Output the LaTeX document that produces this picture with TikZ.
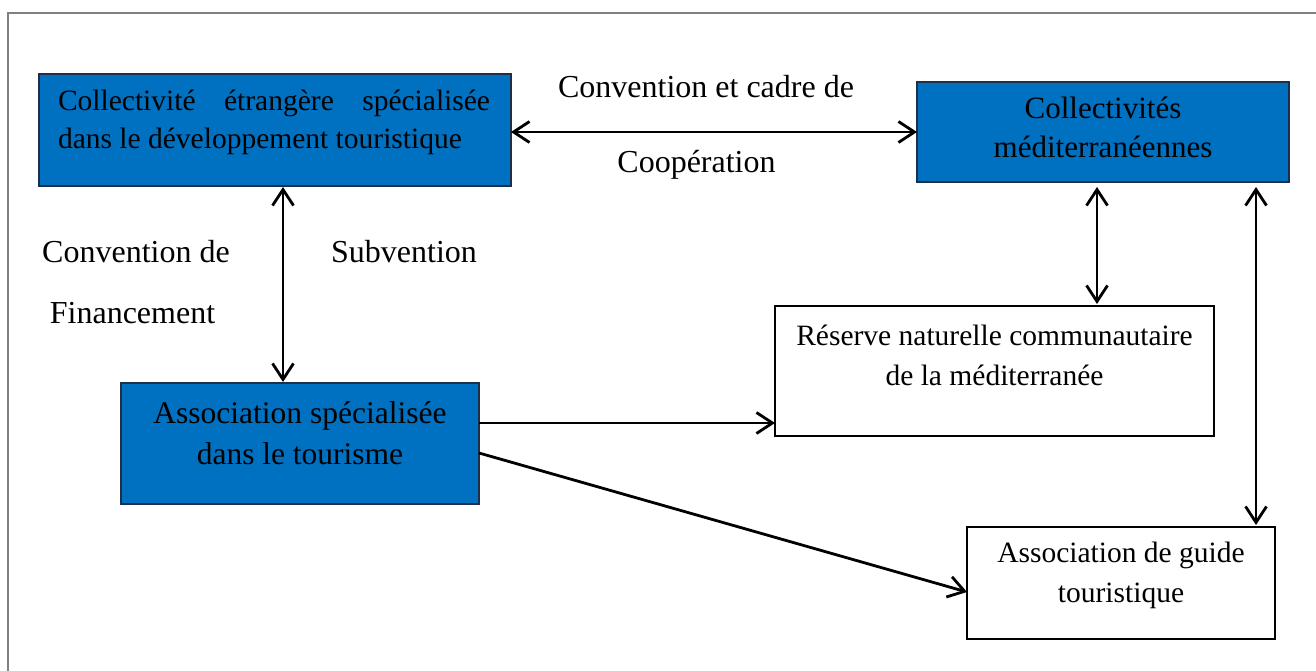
\documentclass[tikz,border=0pt]{standalone}
\usepackage{fontspec}
\setmainfont{Liberation Serif}
\usetikzlibrary{arrows.meta}
\definecolor{boxblue}{HTML}{0070C0}
\definecolor{boxedge}{HTML}{1E2F4A}
\definecolor{framegray}{HTML}{808080}
\begin{document}
\begin{tikzpicture}[x=1pt,y=-1pt,
  >={Straight Barb[length=16pt,width=21pt]},
  bluebox/.style={draw=boxedge, line width=1.4pt, fill=boxblue, inner sep=0pt, outer sep=0pt, anchor=north west},
  whitebox/.style={draw=black, line width=1.4pt, fill=white, inner sep=0pt, outer sep=0pt, anchor=north west},
  conn/.style={line width=2.8pt, black},
  boxtxt/.style={inner sep=0pt, outer sep=0pt, text=black},
  lbl/.style={inner sep=0pt, outer sep=0pt, anchor=base, font=\fontsize{32}{38}\selectfont}]
\useasboundingbox (0,0) rectangle (1316,671);
% frame (top and left edges visible)
\draw[framegray, line width=2.4pt] (8,671) -- (8,13) -- (1316,13);

% boxes
\node[bluebox, minimum width=472pt, minimum height=112pt] (b1) at (39,74) {};
\node[bluebox, minimum width=372pt, minimum height=100pt] (b2) at (917,82) {};
\node[bluebox, minimum width=358pt, minimum height=121pt] (b3) at (121,383) {};
\node[whitebox, minimum width=439pt, minimum height=130pt] (b4) at (775,306) {};
\node[whitebox, minimum width=308pt, minimum height=112pt] (b5) at (967,527) {};

% box texts (anchor = baseline of the last line)
\node[boxtxt, align=left, anchor=base west, font=\fontsize{29.5}{38.5}\selectfont] (t1) at (58,149)
  {\hbox to 432pt{Collectivité\hfill étrangère\hfill spécialisée}\\dans le développement touristique};
\node[boxtxt, align=center, anchor=base, font=\fontsize{31}{38.5}\selectfont] (t2) at (1103,157.5)
  {Collectivités\\méditerranéennes};
\node[boxtxt, align=center, anchor=base, font=\fontsize{31.5}{41}\selectfont] (t3) at (300,464)
  {Association spécialisée\\dans le tourisme};
\node[boxtxt, align=center, anchor=base, font=\fontsize{29.5}{40}\selectfont] (t4) at (994.5,385)
  {Réserve naturelle communautaire\\de la méditerranée};
\node[boxtxt, align=center, anchor=base, font=\fontsize{29.5}{40}\selectfont] (t5) at (1121,602)
  {Association de guide\\touristique};

% labels
\node[lbl] (l1) at (706,98) {Convention et cadre de};
\node[lbl] (l2) at (696.5,172) {Coopération};
\node[lbl] (l3) at (136,262) {Convention de};
\node[lbl] (l4) at (132.5,323) {Financement};
\node[lbl] (l5) at (404,262) {Subvention};

% connectors
\draw[conn,<->] (b1.east |- b2.west) -- (b2.west);
\draw[conn,<->] ([xshift=8pt,yshift=-1pt]b1.south) -- ([xshift=8pt,yshift=1pt]b1.south |- b3.north);
\draw[conn,<->] ([xshift=-6pt,yshift=-5pt]b2.south) -- ([xshift=-6pt,yshift=2pt]b2.south |- b4.north);
\draw[conn,<->] ([xshift=-33pt,yshift=-5pt]b2.south east) -- ([xshift=-33pt,yshift=2pt]b2.south east |- b5.north);
\draw[conn,->] ([yshift=20.5pt]b3.east) -- ([yshift=20.5pt]b3.east -| b4.west);
\draw[conn,->] ([yshift=-9.5pt]b3.east) -- ([yshift=-9pt]b5.west);
\end{tikzpicture}
\end{document}
